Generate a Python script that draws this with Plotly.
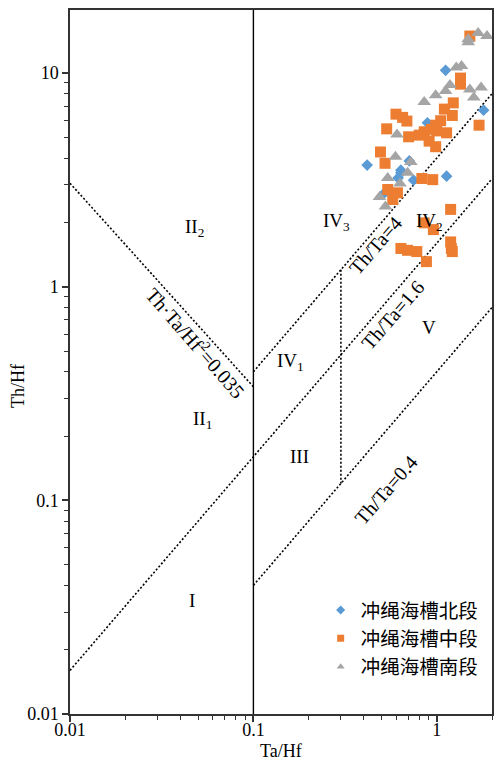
import math
import plotly.graph_objects as go

# Ta/Hf vs Th/Hf, Okinawa Trough basalts by segment
north_x = [1.117, 1.80, 0.889, 0.417, 0.637, 0.708, 0.637, 0.615, 0.747, 1.131, 0.519]
north_y = [10.3, 6.7, 5.85, 3.71, 3.51, 3.88, 3.41, 3.23, 3.15, 3.29, 2.75]

middle_x = [1.514, 1.347, 1.347, 1.23, 1.10, 1.215, 0.599, 0.651, 0.687, 1.05,
            0.986, 0.935, 1.0, 0.854, 0.802, 0.702, 1.131, 0.533, 1.70, 0.908,
            0.986, 0.493, 0.522, 0.829, 0.95, 0.54, 0.61, 0.575, 1.19, 0.854,
            0.958, 0.637, 0.693, 0.778, 0.878, 1.19, 1.20, 1.215]
middle_y = [14.9, 9.47, 8.87, 7.25, 6.78, 6.33, 6.42, 6.20, 5.96, 5.98,
            5.70, 5.45, 5.36, 5.31, 5.12, 5.03, 5.25, 5.48, 5.70, 4.80,
            4.52, 4.27, 3.78, 3.21, 3.17, 2.85, 2.75, 2.56, 2.30, 1.99,
            1.85, 1.51, 1.48, 1.46, 1.31, 1.62, 1.51, 1.46]

south_x = [1.68, 1.483, 1.483, 1.879, 1.277, 1.364, 1.18, 1.514, 1.744, 1.117,
           0.986, 1.592, 0.854, 0.607, 0.595, 0.722, 0.693, 0.54, 0.63, 0.487,
           0.525]
south_y = [15.4, 14.4, 13.95, 14.9, 10.6, 10.8, 8.78, 8.38, 8.56, 8.23,
           7.86, 7.69, 7.31, 5.16, 4.06, 3.83, 3.41, 3.23, 3.04, 2.63,
           2.37]

series_names = ["冲绳海槽北段", "冲绳海槽中段", "冲绳海槽南段"]
series_colors = ["#5B9BD5", "#ED7D31", "#A5A5A5"]
series_symbols = ["diamond", "square", "triangle-up"]

# Discrimination boundaries (Ta/Hf, Th/Hf endpoints)
line_thta4_x, line_thta4_y = [0.1, 2.0], [0.4, 8.0]
line_thta16_x, line_thta16_y = [0.01, 2.0], [0.016, 3.2]
line_thta04_x, line_thta04_y = [0.1, 2.0], [0.04, 0.8]
line_prod_x, line_prod_y = [0.01, 0.1], [3.05, 0.34]
line_split_x, line_split_y = [0.3, 0.3], [1.2, 0.12]
line_v01_x, line_v01_y = [0.1, 0.1], [0.01, 20]

# Field labels
field_text = ["II<sub>2</sub>", "IV<sub>3</sub>", "IV<sub>2</sub>", "V",
              "IV<sub>1</sub>", "II<sub>1</sub>", "III", "I"]
field_x = [0.0475, 0.2825, 0.912, 0.912, 0.159, 0.0525, 0.178, 0.0464]
field_y = [1.88, 2.0, 2.0, 0.647, 0.443, 0.238, 0.16, 0.0338]

# Boundary labels
bnd_text = ["Th/Ta=4", "Th/Ta=1.6", "Th/Ta=0.4", "Th·Ta/Hf<sup>2</sup>=0.035"]
bnd_x = [0.465, 0.575, 0.527, 0.0487]
bnd_y = [1.565, 0.736, 0.112, 0.55]
bnd_angle = [-49, -49, -49, 49]

x_tickvals = [0.01, 0.1, 1]
x_ticktext = ["0.01", "0.1", "1"]
y_tickvals = [0.01, 0.1, 1, 10]
y_ticktext = ["0.01", "0.1", "1", "10"]

serif = "Liberation Serif, Times New Roman, serif"

fig = go.Figure()

dot = "2px,2px"
for lx, ly in [(line_thta4_x, line_thta4_y), (line_thta16_x, line_thta16_y),
               (line_thta04_x, line_thta04_y), (line_prod_x, line_prod_y),
               (line_split_x, line_split_y)]:
    fig.add_trace(go.Scatter(x=lx, y=ly, mode="lines", showlegend=False,
                             hoverinfo="skip",
                             line=dict(color="black", width=1.6, dash=dot)))
fig.add_trace(go.Scatter(x=line_v01_x, y=line_v01_y, mode="lines",
                         showlegend=False, hoverinfo="skip",
                         line=dict(color="black", width=1.4)))

data = [(north_x, north_y, 9), (middle_x, middle_y, 11), (south_x, south_y, 12)]
for (xs, ys, sz), name, col, sym in zip(data, series_names, series_colors, series_symbols):
    fig.add_trace(go.Scatter(x=xs, y=ys, mode="markers", name=name,
                             showlegend=False,
                             marker=dict(symbol=sym, size=sz, color=col,
                                         line=dict(width=0))))

# Legend entries with small symbols
for name, col, sym in zip(series_names, series_colors, series_symbols):
    fig.add_trace(go.Scatter(x=[None], y=[None], mode="markers", name=name,
                             marker=dict(symbol=sym, size=7, color=col)))

# Annotations on log axes are positioned in log10 units
for t, x, y in zip(field_text, field_x, field_y):
    fig.add_annotation(x=math.log10(x), y=math.log10(y), xref="x", yref="y",
                       text=t, showarrow=False,
                       font=dict(family=serif, size=19, color="black"))
for t, x, y, a in zip(bnd_text, bnd_x, bnd_y, bnd_angle):
    fig.add_annotation(x=math.log10(x), y=math.log10(y), xref="x", yref="y",
                       text=t, showarrow=False, textangle=a,
                       font=dict(family=serif, size=20, color="black"))

fig.add_annotation(x=0.5, y=-0.0525, xref="paper", yref="paper", text="Ta/Hf",
                   showarrow=False, xanchor="center", yanchor="middle",
                   font=dict(family=serif, size=18, color="black"))
fig.add_annotation(x=-0.123, y=0.466, xref="paper", yref="paper", text="Th/Hf",
                   showarrow=False, textangle=-90, xanchor="center",
                   yanchor="middle",
                   font=dict(family=serif, size=18, color="black"))

axis_common = dict(type="log", showgrid=False, zeroline=False,
                   showline=True, linecolor="#333333", linewidth=1.5,
                   mirror=True, ticks="outside", ticklen=6, tickwidth=1.5,
                   tickcolor="#333333",
                   tickfont=dict(family=serif, size=18, color="black"),
                   minor=dict(ticks="outside", ticklen=4, tickwidth=1.3,
                              tickcolor="#333333", dtick="D1", showgrid=False))

fig.update_xaxes(range=[-2, 0.301], tickvals=x_tickvals, ticktext=x_ticktext,
                 ticklabelstandoff=-7, **axis_common)
fig.update_yaxes(range=[-2, 1.295], tickvals=y_tickvals, ticktext=y_ticktext,
                 **axis_common)

fig.update_layout(
    width=495, height=760,
    margin=dict(l=70, r=1, t=10, b=46),
    plot_bgcolor="white", paper_bgcolor="white",
    legend=dict(x=0.594, y=0.175, xanchor="left", yanchor="top",
                bgcolor="rgba(0,0,0,0)", tracegroupgap=0,
                font=dict(family="Noto Sans CJK SC", size=19.5, color="black")),
)

fig.write_html("out.html")
